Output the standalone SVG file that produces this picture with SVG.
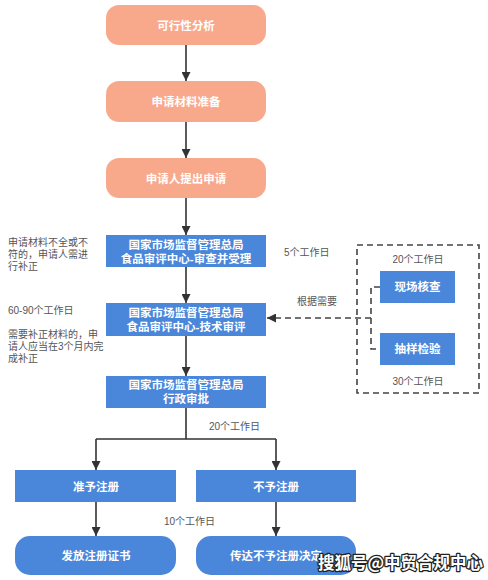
<svg xmlns="http://www.w3.org/2000/svg" width="488" height="580" viewBox="0 0 488 580">
<style>
.cjk{font-family:"Noto Sans CJK SC","Liberation Sans",sans-serif}
.nt{font-family:"Liberation Sans","Noto Sans CJK SC",sans-serif;fill:#fff;font-weight:bold;font-size:11.5px;text-anchor:middle}
.lb{font-family:"Liberation Sans","Noto Sans CJK SC",sans-serif;fill:#555;font-size:10px}
.sal{fill:#F9A98B}
.blu{fill:#4A86DA}
.ln{stroke:#333;stroke-width:1.6;fill:none}
.dl{stroke:#444;stroke-width:1.6;fill:none;stroke-dasharray:6 4}
</style>
<defs>
<marker id="ah2" viewBox="0 0 10 10" refX="10" refY="5" markerWidth="9" markerHeight="9" markerUnits="userSpaceOnUse" orient="auto"><path d="M0,0 L10,5 L0,10 z" fill="#333"/></marker>
</defs>
<rect width="488" height="580" fill="#fff"/>

<g id="connectors">
<path class="ln" d="M186,45 V81" marker-end="url(#ah2)"/>
<path class="ln" d="M186,122 V158" marker-end="url(#ah2)"/>
<path class="ln" d="M186,198 V235" marker-end="url(#ah2)"/>
<path class="ln" d="M186,267 V303" marker-end="url(#ah2)"/>
<path class="ln" d="M186,336 V376" marker-end="url(#ah2)"/>
<path class="ln" d="M186,408 V439 M96,439 H276"/>
<path class="ln" d="M96,439 V470" marker-end="url(#ah2)"/>
<path class="ln" d="M276,439 V470" marker-end="url(#ah2)"/>
<path class="ln" d="M96,502 V536" marker-end="url(#ah2)"/>
<path class="ln" d="M276,502 V536" marker-end="url(#ah2)"/>
<path class="dl" d="M380,287 H371 V349 H380"/>
<path class="dl" d="M371,318 H267" marker-end="url(#ah2)"/>
</g>

<g id="n1"><rect class="sal" x="106" y="5" width="160" height="40" rx="13"/><text class="nt" x="186" y="29.5">可行性分析</text></g>
<g id="n2"><rect class="sal" x="106" y="81" width="160" height="41" rx="13"/><text class="nt" x="186" y="106">申请材料准备</text></g>
<g id="n3"><rect class="sal" x="106" y="158" width="160" height="40" rx="13"/><text class="nt" x="186" y="182.5">申请人提出申请</text></g>
<g id="n4"><rect class="blu" x="106" y="235" width="160" height="32"/><text class="nt"><tspan x="186" y="249">国家市场监督管理总局</tspan><tspan x="186" y="263">食品审评中心-审查并受理</tspan></text></g>
<g id="n5"><rect class="blu" x="106" y="303" width="160" height="33"/><text class="nt"><tspan x="186" y="317">国家市场监督管理总局</tspan><tspan x="186" y="331">食品审评中心-技术审评</tspan></text></g>
<g id="n6"><rect class="blu" x="106" y="376" width="160" height="32"/><text class="nt"><tspan x="186" y="389">国家市场监督管理总局</tspan><tspan x="186" y="402.5">行政审批</tspan></text></g>
<g id="n7"><rect class="blu" x="15" y="470" width="161" height="32"/><text class="nt" x="96" y="490.5">准予注册</text></g>
<g id="n8"><rect class="blu" x="196" y="470" width="160" height="32"/><text class="nt" x="276" y="490.5">不予注册</text></g>
<g id="n9"><rect class="blu" x="15" y="536" width="161" height="39" rx="15"/><text class="nt" x="96" y="560">发放注册证书</text></g>
<g id="n10"><rect class="blu" x="196" y="536" width="160" height="39" rx="15"/><text class="nt" x="276" y="560">传达不予注册决定</text></g>

<g id="group-box">
<rect class="dl" x="357" y="245" width="122" height="148"/>
<text class="lb" x="418" y="262.5" text-anchor="middle">20个工作日</text>
<text class="lb" x="418" y="384.5" text-anchor="middle">30个工作日</text>
</g>
<g id="n11"><rect class="blu" x="380" y="271" width="75" height="32"/><text class="nt" x="417.5" y="291" font-size="12">现场核查</text></g>
<g id="n12"><rect class="blu" x="380" y="333" width="75" height="32"/><text class="nt" x="417.5" y="353" font-size="12">抽样检验</text></g>

<g id="labels">
<text class="lb" x="284" y="255.5">5个工作日</text>
<text class="lb" x="297" y="304.5">根据需要</text>
<text class="lb" x="209" y="429.5">20个工作日</text>
<text class="lb" x="164" y="524.5">10个工作日</text>
<text class="lb"><tspan x="8" y="245.5">申请材料不全或不</tspan><tspan x="8" y="257.5">符的，申请人需进</tspan><tspan x="8" y="269.5">行补正</tspan></text>
<text class="lb" x="8" y="313.5">60-90个工作日</text>
<text class="lb"><tspan x="8" y="337.5">需要补正材料的，申</tspan><tspan x="8" y="349.5">请人应当在3个月内完</tspan><tspan x="8" y="361.5">成补正</tspan></text>
</g>

<text class="cjk" x="318" y="569" font-size="16.5" font-weight="bold" fill="#fff" stroke="#222" stroke-width="2.5" paint-order="stroke" stroke-linejoin="round">搜狐号@中贸合规中心</text>
</svg>
